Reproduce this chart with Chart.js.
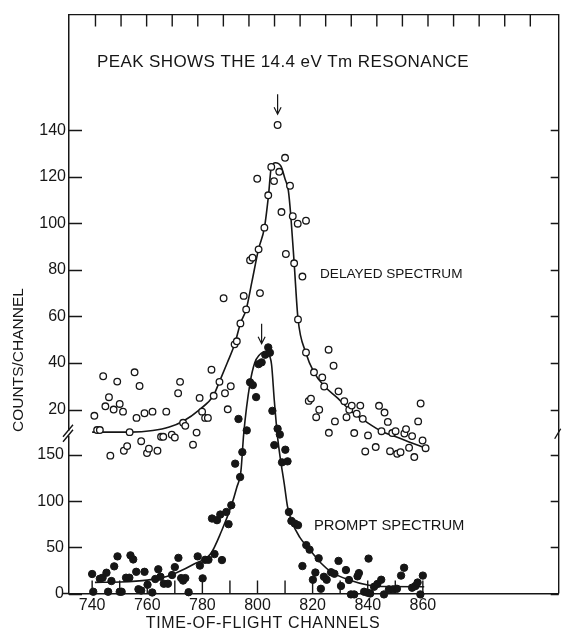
<!DOCTYPE html>
<html>
<head>
<meta charset="utf-8">
<script src="https://cdn.jsdelivr.net/npm/chart.js@4.4.1/dist/chart.umd.min.js"></script>
<style>
  html, body { margin: 0; padding: 0; background: #fff; }
</style>
</head>
<body>
<canvas id="tof" width="564" height="631"></canvas>
<script>
// delayed spectrum, open circles, read against the upper (20..140) scale
const delayedChannels = [
  740.8, 741.8, 742.8, 744.0, 744.8, 746.1, 746.6, 747.8, 749.1, 750.0,
  751.2, 751.5, 752.7, 753.6, 755.4, 756.1, 757.2, 757.8, 759.0, 759.9,
  760.6, 761.9, 763.7, 765.0, 765.8, 766.9, 768.9, 770.0, 771.2, 771.9,
  773.0, 773.8, 776.6, 777.9, 779.0, 779.9, 781.0, 782.0, 783.3, 784.1,
  786.2, 787.7, 788.2, 789.2, 790.3, 791.7, 792.5, 793.8, 795.0, 795.9,
  797.3, 798.2, 799.9, 800.4, 800.9, 802.5, 803.9, 805.0, 806.0, 807.3,
  807.9, 808.7, 810.0, 810.3, 811.8, 812.8, 813.3, 814.6, 814.7, 816.3,
  817.6, 817.6, 818.6, 819.4, 820.5, 821.3, 822.4, 823.5, 824.2, 825.8,
  825.9, 827.6, 828.1, 829.4, 831.5, 832.3, 833.3, 834.2, 835.1, 836.0,
  837.3, 838.2, 839.1, 840.1, 842.9, 844.1, 845.0, 846.1, 847.3, 848.1,
  848.9, 850.1, 850.7, 851.9, 853.3, 853.9, 855.0, 856.1, 856.9, 858.3,
  859.2, 859.9, 861.0
];
const delayedCounts = [
  17.3, 11.2, 11.2, 34.3, 21.4, 25.3, 0.2, 20.0, 32.0, 22.4,
  19.1, 2.3, 4.3, 10.3, 36.0, 16.4, 30.1, 6.4, 18.4, 1.3,
  3.2, 19.1, 2.3, 8.3, 8.3, 19.1, 9.2, 8.0, 27.0, 31.9,
  14.3, 13.0, 4.9, 10.1, 25.0, 19.1, 16.4, 16.4, 37.1, 25.9,
  31.9, 67.8, 27.0, 20.1, 30.0, 48.0, 49.3, 57.0, 68.8, 63.0,
  84.1, 85.2, 119.1, 88.8, 70.0, 98.1, 112.0, 124.2, 118.1, 142.2,
  122.1, 104.8, 128.1, 86.8, 116.1, 103.0, 82.8, 99.8, 58.7, 77.1,
  101.1, 44.5, 23.7, 24.7, 36.0, 16.7, 19.9, 33.8, 29.9, 45.7,
  10.0, 38.8, 14.9, 27.8, 23.6, 16.7, 19.9, 21.7, 9.9, 18.2,
  21.7, 16.0, 2.0, 8.9, 3.9, 21.6, 10.7, 18.7, 14.7, 2.1,
  9.9, 10.7, 1.0, 1.7, 9.7, 11.6, 3.6, 8.6, -0.4, 14.9,
  22.6, 6.7, 3.4
];

// prompt spectrum, filled circles, read against the lower (0..150) scale
const promptChannels = [
  740.0, 740.4, 742.8, 743.8, 745.2, 745.8, 747.0, 748.0, 749.2, 750.0,
  750.7, 752.3, 753.5, 753.9, 754.9, 756.0, 756.8, 757.8, 759.0, 760.1,
  761.8, 762.9, 764.0, 764.8, 766.0, 767.5, 769.0, 770.0, 771.3, 772.3,
  773.0, 773.8, 775.0, 778.3, 779.1, 780.1, 781.0, 782.2, 783.5, 784.4,
  785.3, 786.5, 787.1, 788.7, 789.5, 790.5, 791.9, 793.1, 793.7, 794.5,
  796.1, 797.3, 798.3, 799.5, 800.4, 801.5, 802.8, 803.9, 804.5, 805.4,
  806.1, 807.3, 808.1, 808.9, 810.1, 810.9, 811.4, 812.3, 813.5, 814.7,
  816.3, 817.7, 818.9, 820.1, 821.0, 822.2, 823.0, 824.1, 825.1, 826.7,
  827.9, 829.4, 830.3, 832.1, 833.2, 833.9, 835.1, 836.3, 836.8, 838.7,
  839.9, 840.3, 840.9, 842.3, 843.5, 844.9, 845.9, 847.7, 849.2, 850.6,
  852.1, 853.2, 856.1, 857.3, 858.1, 859.1, 860.0
];
const promptCounts = [
  21.1, 1.9, 16.0, 17.1, 22.5, 1.9, 13.5, 29.4, 40.2, 1.9,
  1.9, 17.1, 17.1, 41.3, 36.9, 23.5, 4.6, 3.2, 23.5, 9.5,
  1.1, 15.7, 26.2, 18.1, 10.6, 10.6, 20.0, 28.6, 38.6, 16.7,
  14.0, 16.7, 1.4, 40.2, 30.2, 16.4, 36.5, 36.5, 81.2, 42.7,
  79.4, 85.5, 36.2, 88.3, 75.1, 95.6, 140.6, 189.0, 126.1, 153.1,
  176.6, 228.7, 225.7, 212.7, 248.4, 250.3, 258.6, 266.5, 260.8, 197.8,
  160.7, 178.4, 172.2, 142.0, 155.7, 143.1, 88.3, 78.6, 75.8, 74.0,
  29.7, 52.4, 47.5, 14.9, 22.7, 38.1, 5.1, 18.1, 14.9, 23.0,
  21.4, 35.3, 8.1, 25.4, 14.6, -1.0, -1.0, 18.6, 22.1, 1.9,
  0.9, 37.8, 0.0, 7.3, 10.3, 14.9, -1.0, 4.5, 4.5, 5.1,
  19.4, 27.9, 6.3, 8.1, 11.9, -1.0, 19.4
];

// the two drawn resonance curves
const delayedFitChannels = [740, 754, 762, 768, 773, 779, 784, 786.2, 789, 791.7, 793.8, 795.9, 798, 800.4, 802.5, 804, 805, 806.5, 808.5, 810, 811.2, 812.1, 813.3, 814.7, 817.5, 820.5, 824.3, 829, 833.3, 840, 845, 850, 855, 861];
const delayedFitCounts   = [10.3, 10.3, 11, 12.5, 15, 20, 26, 32, 40, 48, 57, 63, 75, 89, 98, 112, 124, 126, 124.5, 119, 114, 103, 83, 59, 44.5, 36, 30, 25, 20, 14.3, 10.7, 8.4, 6.1, 3.4];
const promptFitChannels = [741, 750, 760, 766, 771, 777, 783, 787, 790.5, 792.5, 794, 795, 797.3, 799, 800.6, 802, 804, 805.1, 806.1, 807.3, 808.2, 809.7, 810.9, 812.3, 815.3, 818.5, 823, 826.7, 833.3, 840, 845, 860.5];
const promptFitCounts   = [12, 12.5, 14.5, 17.5, 23, 32, 43, 68, 95, 115, 133, 173, 228, 250, 258, 261, 259, 248, 209, 169, 148, 119, 94, 79, 61, 49, 33, 23.5, 14.6, 9.2, 7.5, 7.3];

const channelTicks = [740, 750, 760, 770, 780, 790, 800, 810, 820, 830, 840, 850, 860];
const delayedTicks = [20, 40, 60, 80, 100, 120, 140];
const promptTicks = [0, 50, 100, 150];
const topFrameTicks = [0, 1, 2, 3, 4, 5, 6, 7, 8, 9, 10, 11, 12, 13, 14, 15, 16, 17];

const ink = '#161616';
const family = '"Liberation Sans", Arial, sans-serif';

const pts = (xs, ys) => xs.map((x, i) => ({ x, y: ys[i] }));

// frame, inward ticks, axis break, arrows and lettering
const frame = {
  id: 'frame',
  afterLayout(chart) {
    // both y scales share the left margin; the delayed one gets the same box for its labels
    const up = chart.scales.yDelayed;
    up.left = 0;
    up.right = chart.chartArea.left;
    up.width = up.right;
  },
  afterDraw(chart) {
    const { ctx, chartArea: a, scales } = chart;
    ctx.save();
    ctx.strokeStyle = ink;
    ctx.fillStyle = ink;
    ctx.lineWidth = 1.4;
    ctx.beginPath();
    ctx.moveTo(a.left, a.top);
    ctx.lineTo(a.right, a.top);
    ctx.lineTo(a.right, a.bottom);
    ctx.moveTo(a.left - 6, a.bottom);
    ctx.lineTo(a.left, a.bottom);
    [['yPrompt', promptTicks], ['yDelayed', delayedTicks]].forEach(([id, ticks]) => {
      ticks.forEach(v => {
        const y = Math.round(scales[id].getPixelForValue(v)) + 0.5;
        ctx.moveTo(a.left, y); ctx.lineTo(a.left + 13, y);
        ctx.moveTo(a.right, y); ctx.lineTo(a.right - 8, y);
      });
    });
    channelTicks.forEach(v => {
      const x = scales.x.getPixelForValue(v);
      ctx.moveTo(x, a.bottom); ctx.lineTo(x, a.bottom - 13);
    });
    topFrameTicks.forEach(v => {
      const x = scales.xTop.getPixelForValue(v);
      ctx.moveTo(x, a.top); ctx.lineTo(x, a.top + 12);
    });
    ctx.stroke();

    // axis break between the two scales
    const yb = scales.yPrompt.getPixelForValue(173);
    ctx.fillStyle = '#fff';
    ctx.fillRect(a.left - 2, yb - 3, 4, 5);
    ctx.beginPath();
    [-3, 2].forEach(d => {
      ctx.moveTo(a.left - 6, yb + d + 6); ctx.lineTo(a.left + 4, yb + d - 6);
    });
    ctx.moveTo(a.right - 4, yb + 5); ctx.lineTo(a.right + 2, yb - 5);
    ctx.stroke();

    // arrows over the two peaks
    const arrows = [['yDelayed', 807.3, 146.8], ['yPrompt', 801.5, 270.5]];
    ctx.lineWidth = 1.2;
    ctx.beginPath();
    arrows.forEach(([id, ch, v]) => {
      const x = scales.x.getPixelForValue(ch);
      const y = scales[id].getPixelForValue(v);
      ctx.moveTo(x, y - 20); ctx.lineTo(x, y);
      ctx.moveTo(x - 3.5, y - 7); ctx.lineTo(x, y); ctx.lineTo(x + 3.5, y - 7);
    });
    ctx.stroke();

    // lettering
    ctx.fillStyle = ink;
    ctx.textBaseline = 'middle';
    const text = (s, x, y, size, spacing, align) => {
      ctx.font = size + 'px ' + family;
      ctx.letterSpacing = spacing + 'px';
      ctx.textAlign = align;
      ctx.fillText(s, x, y);
    };
    text('PEAK SHOWS THE 14.4 eV Tm RESONANCE', 97, 62.5, 17, 0.4, 'left');
    text('DELAYED SPECTRUM', 320, 274.5, 13.6, 0, 'left');
    text('PROMPT SPECTRUM', 314, 526, 14.8, 0, 'left');
    text('TIME-OF-FLIGHT CHANNELS', 263, 624, 16, 0.65, 'center');
    ctx.translate(18.5, 360);
    ctx.rotate(-Math.PI / 2);
    text('COUNTS/CHANNEL', 0, 0, 15.5, 0, 'center');
    ctx.restore();
  }
};

const tickFont = { family, size: 16 };

new Chart(document.getElementById('tof'), {
  type: 'scatter',
  data: {
    datasets: [
      {
        label: 'Prompt spectrum',
        data: pts(promptChannels, promptCounts),
        yAxisID: 'yPrompt',
        pointRadius: 3.7,
        borderWidth: 1,
        borderColor: ink,
        backgroundColor: ink,
        clip: false
      },
      {
        label: 'Delayed spectrum',
        data: pts(delayedChannels, delayedCounts),
        yAxisID: 'yDelayed',
        pointRadius: 3.3,
        borderWidth: 1.3,
        borderColor: ink,
        backgroundColor: '#fff',
        clip: false
      },
      {
        label: 'Delayed curve',
        data: pts(delayedFitChannels, delayedFitCounts),
        yAxisID: 'yDelayed',
        showLine: true,
        pointRadius: 0,
        borderColor: ink,
        borderWidth: 1.6,
        cubicInterpolationMode: 'monotone',
        clip: false
      },
      {
        label: 'Prompt curve',
        data: pts(promptFitChannels, promptFitCounts),
        yAxisID: 'yPrompt',
        showLine: true,
        pointRadius: 0,
        borderColor: ink,
        borderWidth: 1.6,
        cubicInterpolationMode: 'monotone',
        clip: false
      }
    ]
  },
  options: {
    responsive: false,
    animation: false,
    devicePixelRatio: 1,
    layout: { padding: { top: 13, right: 1, left: 0, bottom: 0 } },
    plugins: { legend: { display: false }, tooltip: { enabled: false } },
    scales: {
      x: {
        type: 'linear',
        position: 'bottom',
        min: 731.6,
        max: 909.3,
        grid: { display: false, drawTicks: false },
        border: { color: ink, width: 1.5 },
        ticks: {
          color: ink, font: tickFont, padding: 2, maxRotation: 0, autoSkip: false,
          callback: v => (v % 20 === 0 ? String(v) : '')
        },
        afterBuildTicks: s => { s.ticks = channelTicks.map(value => ({ value })); },
        afterFit: s => { s.height = 37.5; }
      },
      xTop: { type: 'linear', display: false, position: 'top', min: -1.035, max: 18.11 },
      yPrompt: {
        type: 'linear',
        position: 'left',
        weight: 0,
        min: 0,
        max: 626.9,
        grid: { display: false, drawTicks: false },
        border: { color: ink, width: 1.5 },
        ticks: { color: ink, font: tickFont, padding: 5 },
        afterBuildTicks: s => { s.ticks = promptTicks.map(value => ({ value })); },
        afterFit: s => { s.width = 69; }
      },
      yDelayed: {
        type: 'linear',
        position: 'left',
        weight: 10,
        min: -59.0,
        max: 189.6,
        grid: { display: false, drawTicks: false },
        border: { display: false },
        ticks: { color: ink, font: tickFont, padding: 3 },
        afterBuildTicks: s => { s.ticks = delayedTicks.map(value => ({ value })); },
        afterFit: s => { s.width = 0; }
      }
    }
  },
  plugins: [frame]
});
</script>
</body>
</html>
